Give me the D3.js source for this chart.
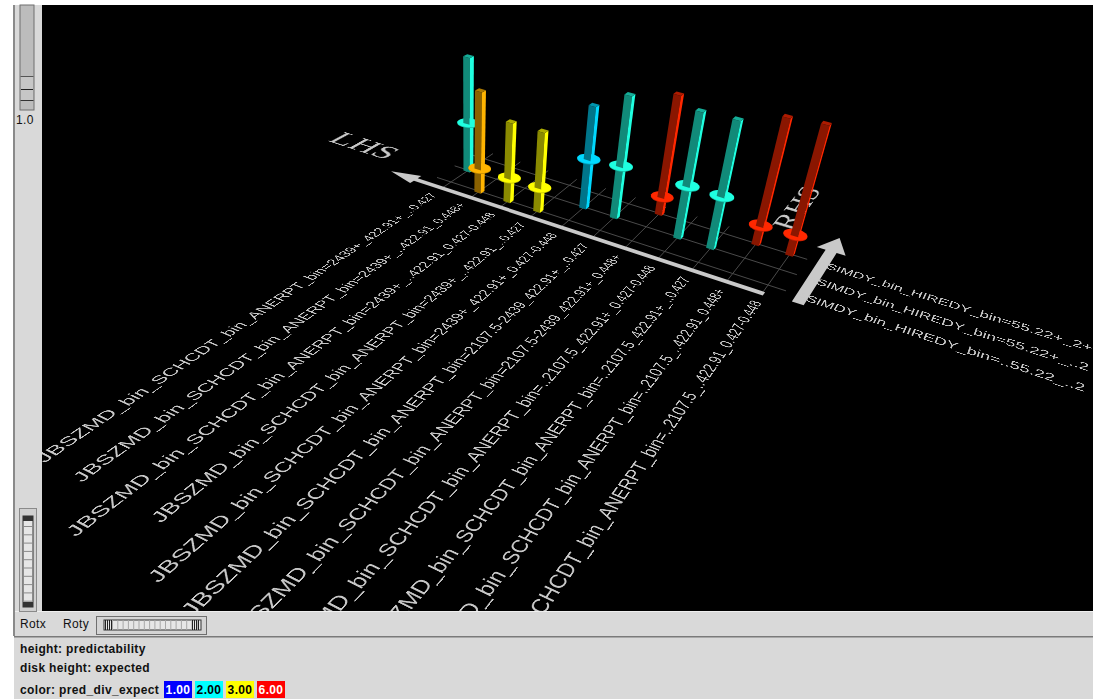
<!DOCTYPE html>
<html><head><meta charset="utf-8">
<script src="https://cdn.jsdelivr.net/npm/d3@7"></script>
<style>
html,body{margin:0;padding:0;background:#fff;overflow:hidden}
#stage{position:absolute;left:0;top:0;width:1093px;height:699px}
#view{position:absolute;left:0;top:0;width:1093px;height:699px;clip-path:inset(5px 0 88px 42px)}
svg{position:absolute;left:0;top:0}
.lab{position:absolute;left:0;top:0;transform-origin:0 0;white-space:pre;font:40px/40px "Liberation Sans",sans-serif;color:#c8c8c8}
.big{font-family:"Liberation Serif",serif}
.ui{font-family:"Liberation Sans",sans-serif;font-weight:700;font-size:12px;fill:#111;letter-spacing:.35px}
</style></head><body>
<div id="stage"><svg id="chrome" width="1093" height="699"></svg>
<div id="view"><svg id="floor" width="1093" height="699"></svg><div id="labels"></div><svg id="bars" width="1093" height="699"></svg></div></div>
<script>
const lhsLabels=[
"JBSZMD_bin_SCHCDT_bin_ANERPT_bin=2439+_422.91+_..0.427",
"JBSZMD_bin_SCHCDT_bin_ANERPT_bin=2439+_..422.91_0.448+",
"JBSZMD_bin_SCHCDT_bin_ANERPT_bin=2439+_..422.91_0.427-0.448",
"JBSZMD_bin_SCHCDT_bin_ANERPT_bin=2439+_..422.91_..0.427",
"JBSZMD_bin_SCHCDT_bin_ANERPT_bin=2439+_422.91+_0.427-0.448",
"JBSZMD_bin_SCHCDT_bin_ANERPT_bin=2107.5-2439_422.91+_..0.427",
"JBSZMD_bin_SCHCDT_bin_ANERPT_bin=2107.5-2439_422.91+_0.448+",
"JBSZMD_bin_SCHCDT_bin_ANERPT_bin=..2107.5_422.91+_0.427-0.448",
"JBSZMD_bin_SCHCDT_bin_ANERPT_bin=..2107.5_422.91+_..0.427",
"JBSZMD_bin_SCHCDT_bin_ANERPT_bin=..2107.5_..422.91_0.448+",
"JBSZMD_bin_SCHCDT_bin_ANERPT_bin=..2107.5_..422.91_0.427-0.448"];
const rhsLabels=[
"ASIMDY_bin_HIREDY_bin=..55.22_..2",
"ASIMDY_bin_HIREDY_bin=55.22+_..2",
"ASIMDY_bin_HIREDY_bin=55.22+_2+"];
const barColumn=[0,1,2,3,4,5,6,7,8,9,10];
const barRow=[1,0,0,0,1,1,2,1,1,2,2];
const predictability=[0.89,0.78,0.62,0.62,0.79,0.93,0.92,0.95,0.96,0.96,0.98];
const expected=[0.39,0.19,0.19,0.19,0.39,0.41,0.14,0.41,0.41,0.15,0.16];
const predDivExpect=[2.12,3.88,3.0,3.0,1.85,2.12,5.53,2.12,2.12,5.53,5.53];
const legendValues=[1,2,3,6];
const legendColors=["#0000ff","#00ffff","#ffff00","#ff0000"];
const legendText=["#fff","#000","#000","#fff"];
const infoLines=["height: predictability","disk height: expected"];

const W=1093,Hh=699;
// ---- perspective camera: floor plane correspondences and vertical vanishing point
function solve(A,b){const n=b.length;A=A.map((r,i)=>[...r,b[i]]);
 for(let i=0;i<n;i++){let p=i;for(let k=i+1;k<n;k++)if(Math.abs(A[k][i])>Math.abs(A[p][i]))p=k;[A[i],A[p]]=[A[p],A[i]];
  for(let k=0;k<n;k++)if(k!==i){const f=A[k][i]/A[i][i];for(let j=i;j<=n;j++)A[k][j]-=f*A[i][j];}}
 return A.map((r,i)=>r[n]/r[i]);}
function homography(pairs){const A=[],b=[];
 pairs.forEach(([u,v,x,y])=>{A.push([u,v,1,0,0,0,-u*x,-v*x]);b.push(x);A.push([0,0,0,u,v,1,-u*y,-v*y]);b.push(y);});
 const s=solve(A,b);return [[s[0],s[1],s[2]],[s[3],s[4],s[5]],[s[6],s[7],1]];}
let H=homography([[0,0,451,182],[10,0,768,285],[0,2,485,159],[10,2,790,254]]);
const wc=H[2][0]*5+H[2][1]*1+H[2][2];H=H.map(r=>r.map(x=>x/wc));
const vanish=[467,1412];
const zScale=d3.scaleLinear().domain([0,1]).range([0,-0.1]);
function proj(u,v,h=0){const l=zScale(h);
 const X=H[0][0]*u+H[0][1]*v+H[0][2]+l*vanish[0],Y=H[1][0]*u+H[1][1]*v+H[1][2]+l*vanish[1],Z=H[2][0]*u+H[2][1]*v+H[2][2]+l;
 return [X/Z,Y/Z];}
function inv(x,y){const s=solve([[H[0][0]-x*H[2][0],H[0][1]-x*H[2][1]],[H[1][0]-y*H[2][0],H[1][1]-y*H[2][1]]],[x*H[2][2]-H[0][2],y*H[2][2]-H[1][2]]);return {u:s[0],v:s[1]};}
const uScale=d3.scalePoint().domain(lhsLabels).range([0,10]);
const vScale=d3.scalePoint().domain(rhsLabels).range([0,2]);
const color=d3.scaleLinear().domain(legendValues).range(legendColors);
const path=d3.line();
const poly=pts=>path(pts)+"Z";

// ---- floor
const floor=d3.select("#floor");
floor.append("rect").attr("width",W).attr("height",Hh).attr("fill","#000");
const gridG=floor.append("g").attr("stroke","#4a4a4a").attr("stroke-width",1).attr("fill","none");
rhsLabels.forEach(r=>{const v=vScale(r);gridG.append("path").attr("d",path([proj(-.5,v),proj(10.5,v)]));});
lhsLabels.forEach(c=>{const u=uScale(c);gridG.append("path").attr("d",path([proj(u,-.45),proj(u,2.5)]));});
function arrowPoly(a,b,hb,sw,hw){ // screen-space shaft + head built from projected floor ends
 return [a,b,hb,sw,hw];}
const axisFill="#c9c9c9";
{ // LHS axis
 const vA=-.5,hw=.1,hh=.3;const uA=10.05;const t=inv(390,172),hb=inv(415,180);
 const p=[[uA,vA-hw],[hb.u,vA-hw],[hb.u,vA-hh],[t.u,vA],[hb.u,vA+hh],[hb.u,vA+hw],[uA,vA+hw]].map(d=>proj(d[0],d[1]));
 floor.append("path").attr("d",poly(p)).attr("fill",axisFill);
 // RHS axis
 const uB=10.95,w=.16,ww=.42;const s=-.42,tip=inv(826,234).v,hbv=inv(817,247).v;
 const q=[[uB-w,s],[uB-w,hbv],[uB-ww,hbv],[uB,tip],[uB+ww,hbv],[uB+w,hbv],[uB+w,s]].map(d=>proj(d[0],d[1]));
 floor.append("path").attr("d",poly(q)).attr("fill",axisFill);
}
// ---- perspective text
function mul(A,B){return A.map(r=>B[0].map((_,j)=>r.reduce((s,x,k)=>s+x*B[k][j],0)));}
const cvs=document.createElement("canvas").getContext("2d");
function place(text,A,cls){const M=mul(H,A);
 d3.select("#labels").append("div").attr("class","lab "+(cls||"")).text(text)
  .style("transform",`matrix3d(${M[0][0]},${M[1][0]},0,${M[2][0]},${M[0][1]},${M[1][1]},0,${M[2][1]},0,0,1,0,${M[0][2]},${M[1][2]},0,${M[2][2]})`);}
const FS=40,baseY=34; // baseline of the 40px line box
cvs.font='40px "Liberation Sans"';
const refW=cvs.measureText(lhsLabels[3]).width;
const endV=inv(518,222).v, farV=inv(97,490).v;
const ks=(endV-farV)/refW, capU=.3, kt=capU/28.6;
lhsLabels.forEach(t=>{const w=cvs.measureText(t).width,uc=uScale(t);
 place(t,[[0,kt,uc+capU/2-kt*baseY],[ks,0,endV-ks*w],[0,0,1]]);});
const a0=inv(815,266),a1=inv(1092,352);
const rw=cvs.measureText(rhsLabels[2]).width, kr=(a1.u-a0.u)/rw, capV=.36, kv=capV/28.6;
rhsLabels.forEach(t=>{const vr=vScale(t);
 place(t,[[kr,0,a0.u],[0,-kv,vr-capV/2+kv*baseY],[0,0,1]]);});
// LHS / RHS titles
cvs.font='40px "Liberation Serif"';
{const b0=inv(326,141),b1=inv(386,160),top=inv(347,133),w=cvs.measureText("LHS").width,k=(b1.u-b0.u)/w,kh=(top.v-b0.v)/26.5;
 place("LHS",[[k,0,b0.u],[0,-kh,b0.v+kh*baseY],[0,0,1]],"big");}
{const b0=inv(792,232),b1=inv(832,193),top=inv(775,222),w=cvs.measureText("RHS").width,k=(b1.v-b0.v)/w,kh=(b0.u-top.u)/26.5;
 place("RHS",[[0,kh,b0.u-kh*baseY],[k,0,b0.v],[0,0,1]],"big");}

// ---- bars, painted back to front
const bars=d3.select("#bars");
const idx=d3.range(barColumn.length).sort((a,b)=>barRow[b]-barRow[a]||barColumn[a]-barColumn[b]);
const d=.11,rd=.33;
function seg(g,u,v,h0,h1,c,cap){
 const dark=d3.rgb(c.r*.54,c.g*.54,c.b*.54)+"";
 g.append("path").attr("fill",dark).attr("d",poly([proj(u-d,v-d,h0),proj(u+d,v-d,h0),proj(u+d,v-d,h1),proj(u-d,v-d,h1)]));
 g.append("path").attr("fill",c+"").attr("d",poly([proj(u+d,v-d,h0),proj(u+d,v+d,h0),proj(u+d,v+d,h1),proj(u+d,v-d,h1)]));
 if(cap)g.append("path").attr("fill",d3.rgb(c.r*.68,c.g*.68,c.b*.68)+"").attr("d",poly([proj(u-d,v-d,h1),proj(u+d,v-d,h1),proj(u+d,v+d,h1),proj(u-d,v+d,h1)]));
}
idx.forEach(i=>{
 const u=uScale(lhsLabels[barColumn[i]]),v=vScale(rhsLabels[barRow[i]]),c=d3.rgb(color(predDivExpect[i]));
 const g=bars.append("g");
 seg(g,u,v,0,expected[i],c,false);
 const ring=h=>d3.range(0,360,12).map(a=>proj(u+rd*Math.cos(a*Math.PI/180),v+rd*Math.sin(a*Math.PI/180),h));
 g.append("path").attr("fill",d3.rgb(c.r*.75,c.g*.75,c.b*.75)+"").attr("d",poly(ring(expected[i]-.006)));
 g.append("path").attr("fill",c+"").attr("d",poly(ring(expected[i])));
 seg(g,u,v,expected[i],predictability[i],c,true);
});

// ---- window chrome
const ch=d3.select("#chrome");
const R=(x,y,w,h,f,s)=>ch.append("rect").attr("x",x).attr("y",y).attr("width",w).attr("height",h).attr("fill",f).attr("stroke",s||"none");
R(14,5,1079,694,"#d9d9d9");
R(13,5,2,631,"#8a8a8a");
R(15,611,1078,1,"#efefef");
R(14,636,1079,1.5,"#7a7a7a");
// vertical zoom slider
R(20,5,14,105,"#bcbcbc","#6f6f6f");
R(21,76,12,24,"#c6c6c6");R(21,89,12,1,"#222");R(20.5,100,13,1,"#333");R(20.5,76,13,1,"#555");
ch.append("text").attr("class","ui").attr("x",16).attr("y",124).style("font-weight",400).text("1.0");
// lower vertical slider
R(19.5,508.5,17,103,"#d0d0d0","#8a8a8a");
R(23,516,10,91,"#e6e6e6","#333");
R(23,516,10,5,"#333");R(23,602,10,5,"#333");
d3.range(10).forEach(k=>R(23,526+k*8.3,10,1,"#8a8a8a"));
// bottom labels
ch.append("text").attr("class","ui").attr("x",20).attr("y",628).style("font-weight",400).text("Rotx");
ch.append("text").attr("class","ui").attr("x",63).attr("y",628).style("font-weight",400).text("Roty");
R(96.5,616.5,110,18,"#d4d4d4","#6f6f6f");
R(104,620,97,10,"#e6e6e6","#333");
d3.range(17).forEach(k=>R(112+k*5.3,620,1,10,"#a8a8a8"));
d3.range(4).forEach(k=>{R(105+k*2,620,1,10,"#222");R(192+k*2,620,1,10,"#222");});
infoLines.forEach((t,k)=>ch.append("text").attr("class","ui").attr("x",20).attr("y",653+k*19).text(t));
ch.append("text").attr("class","ui").attr("x",20).attr("y",694).text("color: pred_div_expect");
legendValues.forEach((v,k)=>{R(164+k*31,681,28,17,legendColors[k]);
 ch.append("text").attr("class","ui").attr("x",178+k*31).attr("y",694).attr("text-anchor","middle").style("fill",legendText[k]).text(v.toFixed(2));});
</script></body></html>
